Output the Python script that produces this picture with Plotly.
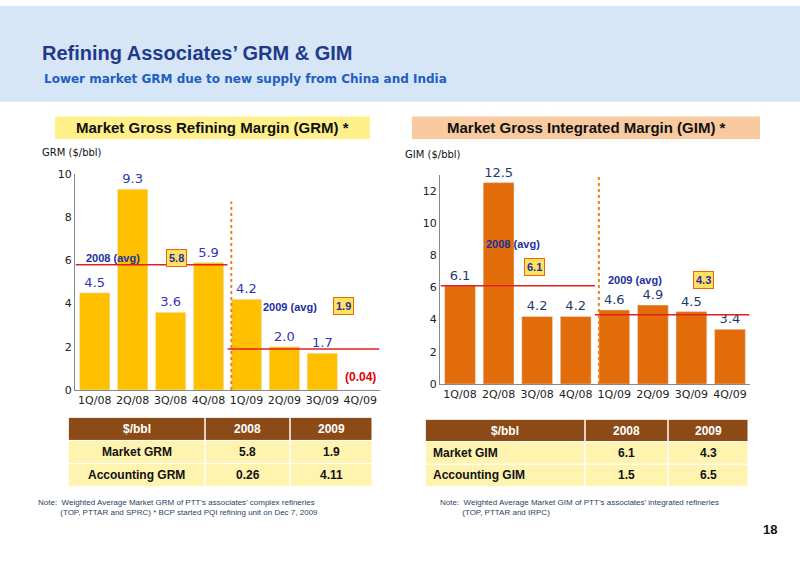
import plotly.graph_objects as go

quarters = ["1Q/08","2Q/08","3Q/08","4Q/08","1Q/09","2Q/09","3Q/09","4Q/09"]
grm = [4.5, 9.3, 3.6, 5.9, 4.2, 2.0, 1.7, -0.04]
grm_labels = ["4.5","9.3","3.6","5.9","4.2","2.0","1.7","(0.04)"]
gim = [6.1, 12.5, 4.2, 4.2, 4.6, 4.9, 4.5, 3.4]
grm_avg = [5.8, 1.9]
gim_avg = [6.1, 4.3]
grm_table = [["$/bbl","2008","2009"],["Market GRM","5.8","1.9"],["Accounting GRM","0.26","4.11"]]
gim_table = [["$/bbl","2008","2009"],["Market GIM","6.1","4.3"],["Accounting GIM","1.5","6.5"]]

F = "Liberation Sans, Arial, sans-serif"
FV = "DejaVu Sans, sans-serif"
fig = go.Figure()
fig.add_trace(go.Bar(x=quarters, y=grm, marker_color="#FFC000", width=0.8, xaxis="x", yaxis="y",
                     text=grm_labels[:7]+[""], textposition="outside", cliponaxis=False,
                     textfont=dict(color="#3333B5", size=13, family=FV)))
fig.add_trace(go.Bar(x=quarters, y=gim, marker_color="#E36C0A", width=0.8, xaxis="x2", yaxis="y2",
                     text=[f"{v:.1f}" for v in gim], textposition="outside", cliponaxis=False,
                     textfont=dict(color="#1F3A6E", size=13, family=FV)))

def px(x): return x/800
def py(y): return 1-y/566

ax = dict(showgrid=False, showline=True, linecolor="#888", ticks="", tickfont=dict(size=11, family=FV, color="#222"))
fig.update_layout(
    width=800, height=566, margin=dict(l=0,r=0,t=0,b=0), showlegend=False, autosize=False,
    plot_bgcolor="white", paper_bgcolor="white", bargap=0.2,
    xaxis=dict(domain=[px(75),px(380)], anchor="y", **ax),
    yaxis=dict(domain=[py(393),py(172)], range=[0,10], dtick=2, anchor="x", **ax),
    xaxis2=dict(domain=[px(440),px(750)], anchor="y2", **ax),
    yaxis2=dict(domain=[py(387),py(172.5)], range=[0,13], tickvals=[0,2,4,6,8,10,12], anchor="x2", **ax),
)

shapes, ann = [], []
def A(text, x, y, size, color="#111", xanchor="center", family=F, **kw):
    ann.append(dict(text=text, x=px(x), y=py(y), xref="paper", yref="paper", xanchor=xanchor, yanchor="middle",
                    showarrow=False, font=dict(size=size, color=color, family=family), **kw))
shapes.append(dict(type="rect", xref="paper", yref="paper", x0=0, x1=1, y0=py(98), y1=1, fillcolor="#D6E6F7", line_width=0, layer="below"))
A("<b>Refining Associates’ GRM & GIM</b>", 40, 48, 20, "#1F3A8A", "left")
A("<b>Lower market GRM due to new supply from China and India</b>", 42, 75, 12, "#2060C0", "left", FV)
shapes.append(dict(type="rect", xref="paper", yref="paper", x0=px(55), x1=px(370), y0=py(136), y1=py(113), fillcolor="#FFF08A", line_width=0))
shapes.append(dict(type="rect", xref="paper", yref="paper", x0=px(412), x1=px(760), y0=py(136), y1=py(113), fillcolor="#F9C99F", line_width=0))
A("<b>Market Gross Refining Margin (GRM) *</b>", 212, 124, 15)
A("<b>Market Gross Integrated Margin (GIM) *</b>", 586, 124, 15)
A("GRM ($/bbl)", 40, 150, 10, xanchor="left", family=FV)
A("GIM ($/bbl)", 403, 152, 10, xanchor="left", family=FV)
ann.append(dict(text="<b>"+grm_labels[7]+"</b>", x=quarters[7], y=0.6, xref="x", yref="y", showarrow=False,
                font=dict(size=12, color="#E00000", family=F)))
for xr, yr, avg in (("x","y",grm_avg),("x2","y2",gim_avg)):
    shapes.append(dict(type="line", xref=xr, yref=yr, x0=-0.5, x1=3.5, y0=avg[0], y1=avg[0], line=dict(color="#E02020", width=1.5)))
    shapes.append(dict(type="line", xref=xr, yref=yr, x0=3.5, x1=7.5, y0=avg[1], y1=avg[1], line=dict(color="#E02020", width=1.5)))
shapes.append(dict(type="line", xref="x", yref="paper", x0=3.6, x1=3.6, y0=py(393), y1=py(200), line=dict(color="#F08020", width=2, dash="dot")))
shapes.append(dict(type="line", xref="x2", yref="paper", x0=3.6, x1=3.6, y0=py(387), y1=py(172), line=dict(color="#F08020", width=2, dash="dot")))
def lab(x, y, t, box=False):
    ann.append(dict(text=f"<b>{t}</b>", x=px(x), y=py(y), xref="paper", yref="paper", showarrow=False,
                    font=dict(size=11, color="#2030A0", family=F),
                    bgcolor="#FFE060" if box else "rgba(0,0,0,0)", bordercolor="#E36C0A" if box else "rgba(0,0,0,0)", borderpad=2))
lab(83, 258, "2008 (avg)"); lab(166, 258, str(grm_avg[0]), True)
lab(290, 308, "2009 (avg)"); lab(343, 307, str(grm_avg[1]), True)
lab(543, 244, "2008 (avg)"); lab(545, 267, str(gim_avg[0]), True)
lab(665, 280, "2009 (avg)"); lab(714, 280, str(gim_avg[1]), True)
def table(data, x0, x1, y0, y1, cols, first_left):
    rh = (y1-y0)/3
    for r, row in enumerate(data):
        fill = "#8B4A16" if r==0 else "#FFF3B0"
        shapes.append(dict(type="rect", xref="paper", yref="paper", x0=px(x0), x1=px(x1), y0=py(y0+rh*(r+1)), y1=py(y0+rh*r), fillcolor=fill, line=dict(color="white", width=1)))
        for c, cell in enumerate(row):
            cx0, cx1 = cols[c], cols[c+1]
            shapes.append(dict(type="line", xref="paper", yref="paper", x0=px(cx0), x1=px(cx0), y0=py(y0+rh*(r+1)), y1=py(y0+rh*r), line=dict(color="white", width=1.5)))
            left = (c==0 and r>0 and first_left)
            A(f"<b>{cell}</b>", cx0+6 if left else (cx0+cx1)/2, y0+rh*(r+0.5), 12, "white" if r==0 else "#111", "left" if left else "center")
table(grm_table, 68, 372, 421, 492, [68, 205, 290, 372], False)
table(gim_table, 425, 748, 423, 492, [425, 585, 668, 748], True)
ann.append(dict(text="Note:  Weighted Average Market GRM of PTT’s associates’ complex refineries<br>          (TOP, PTTAR and SPRC) * BCP started PQI refining unit on Dec 7, 2009", x=px(36), y=py(525), xref="paper", yref="paper", xanchor="left", align="left", showarrow=False, font=dict(size=8, family=F)))
ann.append(dict(text="Note:  Weighted Average Market GIM of PTT’s associates’ integrated refineries<br>          (TOP, PTTAR and IRPC)", x=px(438), y=py(525), xref="paper", yref="paper", xanchor="left", align="left", showarrow=False, font=dict(size=8, family=F)))
A("<b>18</b>", 770, 536, 13)
fig.update_layout(shapes=shapes, annotations=ann)
fig.write_html("out.html", config={"displayModeBar": False},
               post_script="document.body.style.margin='0';document.body.style.overflow='hidden';")
